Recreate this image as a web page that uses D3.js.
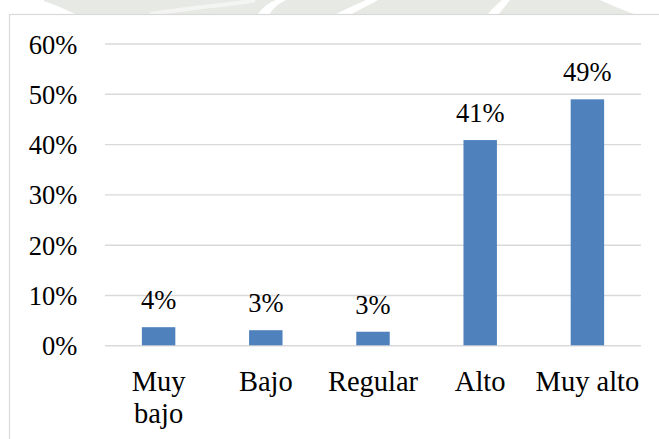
<!DOCTYPE html>
<html>
<head>
<meta charset="utf-8">
<script src="https://cdn.jsdelivr.net/npm/d3@7"></script>
<style>
  html, body { margin: 0; padding: 0; background: #fff; }
  svg { display: block; }
</style>
</head>
<body>
<script>
// Nivel reportado por categoría (proporción de respuestas)
const categories = ["Muy bajo", "Bajo", "Regular", "Alto", "Muy alto"];
const values = [0.036, 0.030, 0.027, 0.408, 0.489];
const yTicks = [0, 0.1, 0.2, 0.3, 0.4, 0.5, 0.6];
// Cortes de línea de las etiquetas de categoría
const labelLines = { "Muy bajo": ["Muy", "bajo"] };

const FONT = "Liberation Serif";

// El gráfico se construye con D3 en un SVG aparte y se escribe en el documento
const svg = d3.create("svg")
  .attr("xmlns", "http://www.w3.org/2000/svg")
  .attr("width", 659)
  .attr("height", 439);

// Marca de agua tenue por encima del marco del gráfico
const wm = svg.append("g").attr("fill", "#e7eae4");
wm.append("rect").attr("x", 44).attr("y", 0).attr("width", 590).attr("height", 14);
const gaps = [
  "M40,0 C60,6 70,12 75,14 L44,14 Z",
  "M258,14 C262,8 268,3 276,0 L286,0 C278,4 272,9 270,14 Z",
  "M336,14 C345,9 356,5 366,0 L378,0 C368,6 358,10 352,14 Z",
  "M488,14 C492,9 497,4 502,0 L510,0 C506,5 502,10 499,14 Z",
  "M600,0 C612,5 622,10 634,14 L634,0 Z"
];
svg.append("g").attr("fill", "#ffffff")
  .selectAll("path").data(gaps).join("path").attr("d", d => d);
svg.append("path")
  .attr("d", "M150,14 C200,6 240,4 255,0")
  .attr("fill", "none").attr("stroke", "#f4f5f2").attr("stroke-width", 4);

// Marco del área del gráfico
svg.append("rect")
  .attr("x", 9.5).attr("y", 14.5)
  .attr("width", 800).attr("height", 600)
  .attr("fill", "#fff")
  .attr("stroke", "#d9d9d9").attr("stroke-width", 1.2);

const x0 = 105, x1 = 641;
const x = d3.scaleBand()
  .domain(categories)
  .range([x0, x1])
  .paddingInner(0.688)
  .paddingOuter(0.344);

const y = d3.scaleLinear()
  .domain([0, 0.6])
  .range([345.3, 43.5]);

const pct = d3.format(".0%");

// Eje vertical con líneas de cuadrícula
const yAxis = svg.append("g")
  .attr("transform", `translate(${x0},0)`)
  .call(d3.axisLeft(y)
    .tickValues(yTicks)
    .tickFormat(pct)
    .tickSize(-(x1 - x0))
    .tickPadding(27.7));
yAxis.select(".domain").remove();
yAxis.attr("font-family", FONT).attr("font-size", 26.5);
yAxis.selectAll(".tick line")
  .attr("stroke", "#d9d9d9").attr("stroke-width", 1.4);
yAxis.selectAll(".tick text")
  .attr("font-family", FONT)
  .attr("font-size", 26.5)
  .attr("fill", "#000")
  .attr("dy", null)
  .attr("y", 9.5);

// Barras
svg.append("g").selectAll("rect")
  .data(categories)
  .join("rect")
  .attr("x", d => x(d))
  .attr("width", x.bandwidth())
  .attr("y", (d, i) => y(values[i]))
  .attr("height", (d, i) => y(0) - y(values[i]))
  .attr("fill", "#4f81bd");

// Etiquetas de valor
svg.append("g").selectAll("text")
  .data(categories)
  .join("text")
  .attr("x", d => x(d) + x.bandwidth() / 2)
  .attr("y", (d, i) => y(values[i]) - 18)
  .attr("text-anchor", "middle")
  .attr("fill", "#000")
  .attr("font-family", FONT)
  .attr("font-size", 26.5)
  .text((d, i) => pct(values[i]));

// Eje de categorías
const xAxis = svg.append("g")
  .attr("transform", `translate(0,${y(0)})`)
  .call(d3.axisBottom(x).tickSize(0).tickPadding(0));
xAxis.select(".domain").remove();
xAxis.attr("font-family", FONT).attr("font-size", 28.5);
xAxis.selectAll(".tick text").each(function(d) {
  const t = d3.select(this);
  const lines = labelLines[d] || [d];
  t.text(null)
    .attr("y", 45.7)
    .attr("dy", null)
    .attr("fill", "#000")
    .attr("font-family", FONT)
    .attr("font-size", 28.5);
  lines.forEach((ln, k) => {
    t.append("tspan").attr("x", 0).attr("dy", k === 0 ? 0 : 32.5).text(ln);
  });
});

document.write(svg.node().outerHTML);
</script>
</body>
</html>
